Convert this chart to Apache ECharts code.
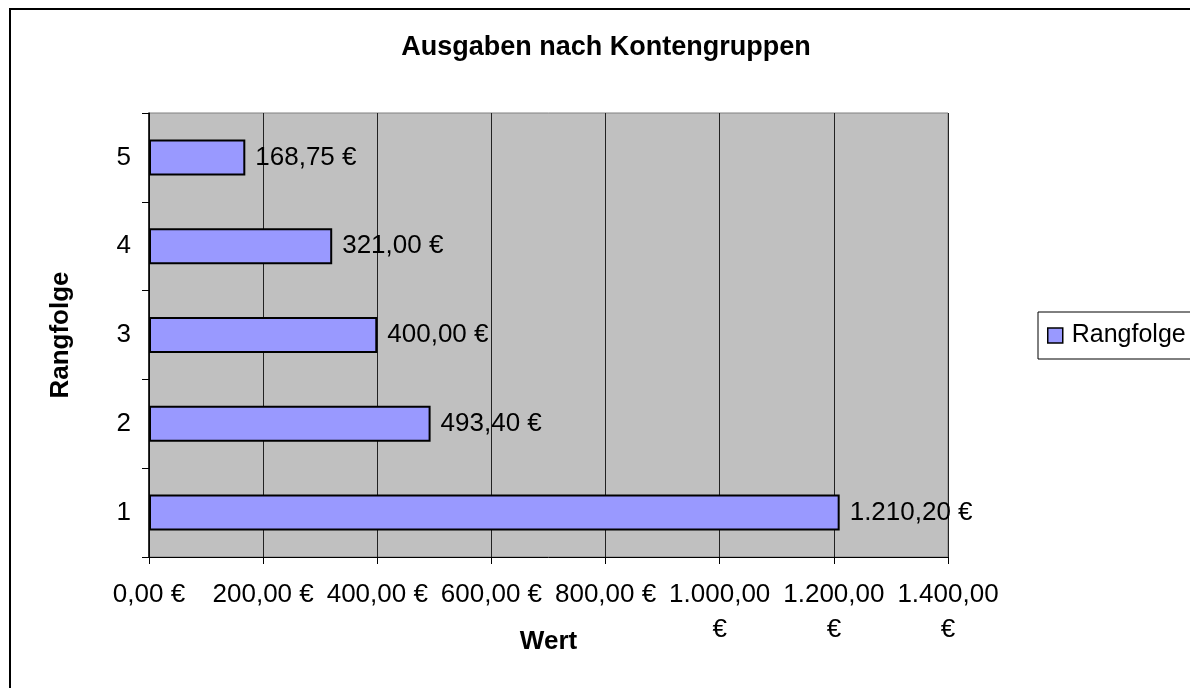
<!DOCTYPE html>
<html>
<head>
<meta charset="utf-8">
<script src="https://cdn.jsdelivr.net/npm/echarts@6/dist/echarts.min.js"></script>
<style>
html,body{margin:0;padding:0;background:#fff;}
#c{width:1190px;height:688px;}
</style>
</head>
<body>
<div id="c"></div>
<script>
const categories = ['1', '2', '3', '4', '5'];
const values = [1210.20, 493.40, 400.00, 321.00, 168.75];
const seriesName = 'Rangfolge';
const titleText = 'Ausgaben nach Kontengruppen';
const xAxisName = 'Wert';
const yAxisName = 'Rangfolge';
const xMin = 0, xMax = 1400, xStep = 200;

const FONT = '"Liberation Sans", Arial, sans-serif';

function euro(v) {
  const parts = Number(v).toFixed(2).split('.');
  const intPart = parts[0].replace(/\B(?=(\d{3})+(?!\d))/g, '.');
  return intPart + ',' + parts[1] + ' €';
}
function tickLabel(v) {
  const s = euro(v);
  return v >= 1000 ? s.replace(' €', '\n€') : s;
}

const chart = echarts.init(document.getElementById('c'), null, {renderer: 'canvas'});
chart.setOption({
  backgroundColor: '#ffffff',
  animation: false,
  textStyle: {fontFamily: FONT},
  graphic: [
    {type: 'rect', z: -10, shape: {x: 10, y: 9, width: 1400, height: 900},
     style: {fill: 'none', stroke: '#000', lineWidth: 2}},
    {type: 'text', x: 606, y: 48,
     style: {text: titleText, fontFamily: FONT, fontSize: 27, fontWeight: 'bold',
             fill: '#000', textAlign: 'center', textVerticalAlign: 'middle'}}
  ],
  legend: {
    left: 1038, top: 312,
    orient: 'vertical',
    backgroundColor: '#fff',
    borderColor: '#000', borderWidth: 1,
    padding: [11, 40, 11, 9],
    itemWidth: 15, itemHeight: 15,
    icon: 'rect',
    itemStyle: {borderColor: '#000', borderWidth: 1.5},
    textStyle: {fontSize: 25, color: '#000', fontFamily: FONT, padding: [0, 0, 0, 4]},
    data: [seriesName]
  },
  grid: {
    left: 149, top: 113, width: 799, height: 444,
    show: true, backgroundColor: '#c0c0c0', borderColor: '#808080', borderWidth: 1
  },
  xAxis: {
    type: 'value', min: xMin, max: xMax, interval: xStep,
    name: xAxisName, nameLocation: 'middle', nameGap: 72, nameMoveOverlap: false,
    nameTextStyle: {fontSize: 26, fontWeight: 'bold', color: '#000', fontFamily: FONT},
    axisLine: {show: true, lineStyle: {color: '#000', width: 1}},
    axisTick: {show: true, length: 7, lineStyle: {color: '#000'}},
    axisLabel: {fontSize: 26, color: '#000', margin: 20, lineHeight: 35,
                formatter: tickLabel, fontFamily: FONT},
    splitLine: {show: true, lineStyle: {color: '#222', width: 1}}
  },
  yAxis: {
    type: 'category', data: categories,
    name: yAxisName, nameLocation: 'middle', nameGap: 75, nameRotate: 90, nameMoveOverlap: false,
    nameTextStyle: {fontSize: 26, fontWeight: 'bold', color: '#000', fontFamily: FONT},
    axisLine: {show: true, lineStyle: {color: '#000', width: 1.5}},
    axisTick: {show: true, length: 7, inside: false, lineStyle: {color: '#000'}},
    axisLabel: {fontSize: 26, color: '#000', margin: 18, fontFamily: FONT},
    splitLine: {show: false}
  },
  series: [{
    name: seriesName,
    type: 'bar',
    data: values,
    barWidth: 36,
    itemStyle: {color: '#9999ff', borderColor: '#000', borderWidth: 2},
    label: {show: true, position: 'right', distance: 10, fontSize: 26, color: '#000',
            fontFamily: FONT, formatter: p => euro(p.value)}
  }]
});
</script>
</body>
</html>
